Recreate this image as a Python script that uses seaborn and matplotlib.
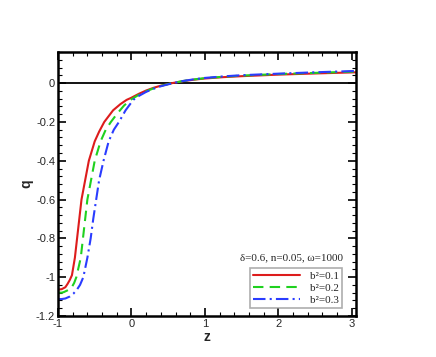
import matplotlib
matplotlib.use("Agg")
import matplotlib.pyplot as plt
import seaborn as sns
import pandas as pd
from matplotlib.ticker import MultipleLocator, FixedLocator, FixedFormatter
from matplotlib.lines import Line2D

sns.set_theme(style="white")
plt.rcParams['font.family'] = ['Liberation Sans', 'DejaVu Sans']
plt.rcParams['axes.unicode_minus'] = False

# data
z_red = [-1.0, -0.95, -0.90, -0.87, -0.84, -0.81, -0.77, -0.74, -0.71, -0.68, -0.63, -0.58, -0.50,
         -0.44, -0.37, -0.30, -0.25, -0.15, -0.065, 0.0, 0.1, 0.2, 0.3, 0.4, 0.55, 0.7,
         0.85, 1.0, 1.25, 1.5, 2.0, 2.5, 3.06]
q_red = [-1.064, -1.062, -1.052, -1.035, -1.015, -0.99, -0.90, -0.80, -0.70, -0.60, -0.50, -0.40, -0.30,
         -0.25, -0.20, -0.165, -0.14, -0.108, -0.086, -0.075, -0.055, -0.038, -0.024, -0.013, 0.0, 0.01,
         0.018, 0.024, 0.031, 0.036, 0.044, 0.05, 0.056]

z_green = [-1.0, -0.95, -0.92, -0.87, -0.82, -0.78, -0.75, -0.69, -0.66, -0.63, -0.60, -0.55, -0.50,
           -0.42, -0.35, -0.28, -0.20, -0.10, 0.0, 0.1, 0.2, 0.3, 0.4, 0.55, 0.7,
           0.85, 1.0, 1.25, 1.5, 2.0, 2.5, 3.06]
q_green = [-1.08, -1.08, -1.077, -1.068, -1.057, -1.03, -1.0, -0.90, -0.80, -0.70, -0.60, -0.50, -0.40,
           -0.30, -0.24, -0.20, -0.16, -0.115, -0.083, -0.06, -0.042, -0.027, -0.014, 0.0, 0.011,
           0.019, 0.026, 0.033, 0.039, 0.047, 0.053, 0.060]

z_blue = [-1.0, -0.95, -0.90, -0.84, -0.79, -0.745, -0.70, -0.655, -0.60, -0.555, -0.52, -0.48, -0.44,
          -0.38, -0.31, -0.24, -0.17, -0.08, 0.025, 0.1, 0.2, 0.3, 0.4, 0.5,
          0.6, 0.7, 0.85, 1.0, 1.25, 1.5, 2.0, 2.5, 3.06]
q_blue = [-1.113, -1.113, -1.11, -1.10, -1.085, -1.066, -1.04, -1.0, -0.90, -0.80, -0.70, -0.60, -0.50,
          -0.40, -0.30, -0.24, -0.20, -0.14, -0.086, -0.066, -0.045, -0.029, -0.016, -0.006,
          0.003, 0.011, 0.02, 0.027, 0.035, 0.041, 0.049, 0.056, 0.063]

labels = ["b²=0.1", "b²=0.2", "b²=0.3"]
title = "δ=0.6, n=0.05, ω=1000"
x_ticks = [-1, 0, 1, 2, 3]
x_ticklabels = ["-1", "0", "1", "2", "3"]
y_ticks = [0, -0.2, -0.4, -0.6, -0.8, -1.0, -1.2]
y_ticklabels = ["0", "-0.2", "-0.4", "-0.6", "-0.8", "-1", "-1.2"]

colors = ["#dd1c1c", "#1fd11f", "#2a3cff"]
dashes = [None, (5, 3), (6, 2, 1, 2)]

fig = plt.figure(figsize=(4.36, 3.57), dpi=100)
ax = fig.add_axes([0.133, 0.115, 0.684, 0.739])

ax.axhline(0, color="black", lw=1.3, zorder=1)

series = [(z_red, q_red), (z_green, q_green), (z_blue, q_blue)]
handles = []
for (zz, qq), c, d, lab in zip(series, colors, dashes, labels):
    df = pd.DataFrame({"z": zz, "q": qq})
    sns.lineplot(data=df, x="z", y="q", ax=ax, color=c, lw=1.5, sort=False, estimator=None)
    ln = ax.get_lines()[-1]
    h = Line2D([], [], color=c, lw=1.5)
    if d is not None:
        ln.set_dashes(d)
        h.set_dashes(d)
    handles.append(h)

ax.set_xlim(-1, 3.06)
ax.set_ylim(-1.2, 0.16)

ax.xaxis.set_major_locator(FixedLocator(x_ticks))
ax.xaxis.set_major_formatter(FixedFormatter(x_ticklabels))
ax.yaxis.set_major_locator(FixedLocator(y_ticks))
ax.yaxis.set_major_formatter(FixedFormatter(y_ticklabels))
ax.xaxis.set_minor_locator(MultipleLocator(0.2))
ax.yaxis.set_minor_locator(MultipleLocator(0.04))

ax.tick_params(which="both", direction="in", top=True, right=True, bottom=True, left=True,
               color="black", labelsize=8, pad=2)
ax.tick_params(which="major", length=6, width=1.2)
ax.tick_params(which="minor", length=3, width=0.8)

for s in ax.spines.values():
    s.set_color("black")
    s.set_linewidth(1.8)

ax.set_xlabel("z", fontsize=10, fontweight="bold", labelpad=1)
ax.set_ylabel("q", fontsize=10, fontweight="bold", labelpad=2)

serif = ["Liberation Serif", "DejaVu Serif"]
leg = ax.legend(handles=handles, labels=labels, loc="lower right", bbox_to_anchor=(0.953, 0.03),
                prop={"family": serif, "size": 8}, frameon=True, fancybox=False,
                handlelength=4.2, handletextpad=0.9, borderpad=0.3, labelspacing=0.2,
                borderaxespad=0)
leg.get_frame().set_edgecolor("#999999")
leg.get_frame().set_linewidth(1.2)
ax.text(0.955, 0.205, title, transform=ax.transAxes, ha="right", va="bottom",
        fontsize=8, family=serif)

fig.savefig("out.png", dpi=100)
